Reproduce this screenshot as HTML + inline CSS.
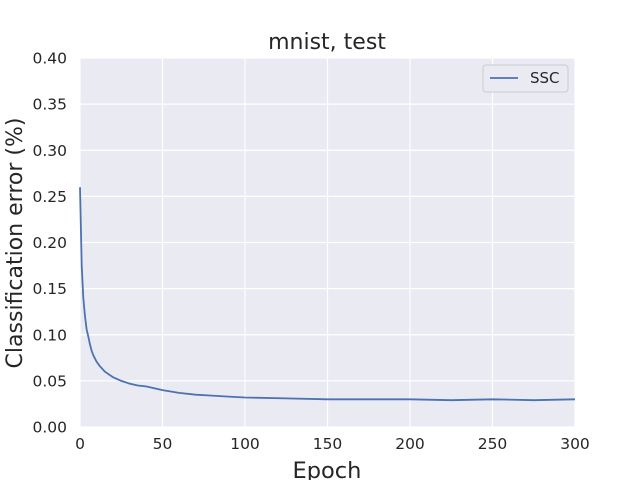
<!DOCTYPE html>
<html><head><meta charset="utf-8"><style>
body{margin:0;background:#fff;}
svg text{font-family:"DejaVu Sans","Liberation Sans",sans-serif;fill:#262626;}
</style></head><body>
<svg id="chart" width="640" height="480">
<rect x="80" y="58" width="495" height="369" fill="#eaeaf2"/>
<g id="grid"></g>
<g id="ticks"></g>
<path id="line" fill="none" stroke="#4c72b0" stroke-width="1.8"/>
<text x="327" y="49" text-anchor="middle" font-size="22">mnist, test</text>
<text x="327" y="478" text-anchor="middle" font-size="22.5">Epoch</text>
<text transform="translate(22,243) rotate(-90)" text-anchor="middle" font-size="22">Classification error (%)</text>
<g>
<rect x="483" y="65" width="85" height="27" rx="3" fill="#eaeaf2" stroke="#cccccc"/>
<line x1="490" y1="78" x2="518" y2="78" stroke="#4c72b0" stroke-width="1.8"/>
<text x="530" y="83" font-size="15">SSC</text>
</g>
</svg>
<script>
const epochs=[0,1,2,3,4,5,6,7,8,10,12,15,20,25,30,35,40,50,60,70,80,90,100,125,150,175,200,225,250,275,300];
const errors=[0.26,0.175,0.14,0.12,0.106,0.098,0.09,0.083,0.078,0.071,0.066,0.060,0.054,0.050,0.047,0.045,0.044,0.040,0.037,0.035,0.034,0.033,0.032,0.031,0.030,0.030,0.030,0.029,0.030,0.029,0.030];
const xTicks=[0,50,100,150,200,250,300];
const yTicks=[0,0.05,0.1,0.15,0.2,0.25,0.3,0.35,0.4];
const X=v=>80+v/300*495, Y=v=>427-v/0.4*369;
const ns="http://www.w3.org/2000/svg";
const grid=document.getElementById('grid'), ticks=document.getElementById('ticks');
xTicks.forEach(t=>{
 const l=document.createElementNS(ns,'line');
 l.setAttribute('x1',X(t));l.setAttribute('x2',X(t));l.setAttribute('y1',58);l.setAttribute('y2',427);
 l.setAttribute('stroke','#fff');l.setAttribute('stroke-width','1.2');
 
 
 grid.appendChild(l);
 const s=document.createElementNS(ns,'text');
 s.setAttribute('x',X(t));s.setAttribute('y',449);s.setAttribute('text-anchor','middle');s.setAttribute('font-size','15.5');
 s.textContent=t;
 
 
 ticks.appendChild(s);
});
yTicks.forEach(t=>{
 const l=document.createElementNS(ns,'line');
 l.setAttribute('y1',Y(t));l.setAttribute('y2',Y(t));l.setAttribute('x1',80);l.setAttribute('x2',575);
 l.setAttribute('stroke','#fff');l.setAttribute('stroke-width','1.2');
 
 
 grid.appendChild(l);
 const s=document.createElementNS(ns,'text');
 s.setAttribute('x',67);s.setAttribute('y',Y(t)+5.5);s.setAttribute('text-anchor','end');s.setAttribute('font-size','15.5');
 s.textContent=t.toFixed(2);
 
 
 ticks.appendChild(s);
});
document.getElementById('line').setAttribute('d',epochs.map((e,i)=>(i?'L':'M')+X(e).toFixed(1)+','+Y(errors[i]).toFixed(1)).join(''));
</script>
</body></html>
